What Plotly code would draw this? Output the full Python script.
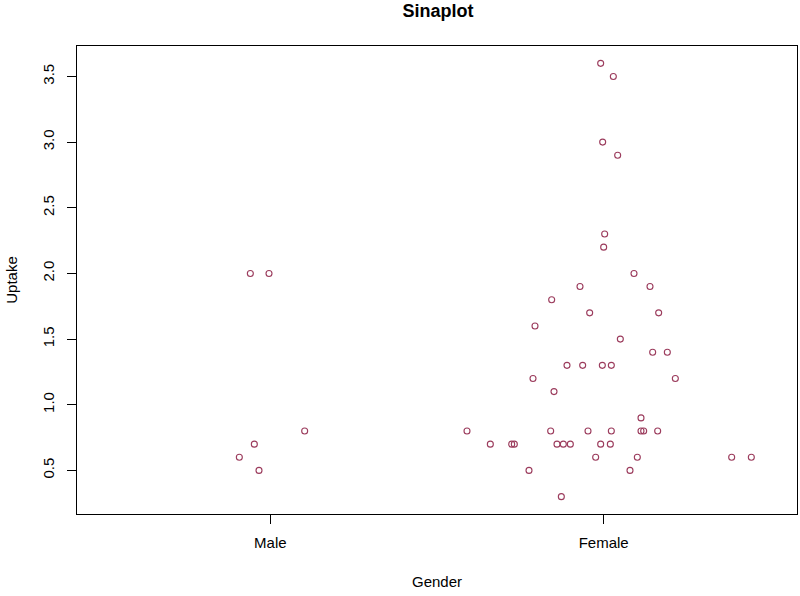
import plotly.graph_objects as go

categories = ["Male", "Female"]
cat_pos = [1, 2]

male_uptake = [2.0, 2.0, 0.8, 0.7, 0.6, 0.5]
male_xpos = [0.940, 0.996, 1.103, 0.952, 0.907, 0.966]

female_uptake = [3.6, 3.5, 3.0, 2.9, 2.3, 2.2, 2.0, 1.9, 1.9, 1.8, 1.7, 1.7, 1.6, 1.5,
                 1.4, 1.4, 1.3, 1.3, 1.3, 1.3, 1.2, 1.2, 1.1, 0.9,
                 0.8, 0.8, 0.8, 0.8, 0.8, 0.8, 0.8,
                 0.7, 0.7, 0.7, 0.7, 0.7, 0.7, 0.7, 0.7,
                 0.6, 0.6, 0.6, 0.6, 0.5, 0.5, 0.3]
female_xpos = [1.991, 2.029, 1.997, 2.042, 2.003, 2.000, 2.091, 1.929, 2.139, 1.844, 1.958, 2.165, 1.794, 2.050,
               2.147, 2.191, 1.890, 1.937, 1.996, 2.023, 1.788, 2.215, 1.851, 2.112,
               1.590, 1.841, 1.953, 2.023, 2.112, 2.120, 2.162,
               1.660, 1.724, 1.732, 1.860, 1.879, 1.900, 1.991, 2.020,
               1.976, 2.101, 2.384, 2.443, 1.776, 2.079, 1.873]

y_ticks = [0.5, 1.0, 1.5, 2.0, 2.5, 3.0, 3.5]

col = "#9b3b5c"
marker = dict(symbol="circle-open", size=6, color=col, line=dict(width=1.1, color=col))

fig = go.Figure()
fig.add_trace(go.Scatter(x=male_xpos, y=male_uptake, mode="markers", marker=marker,
                         name="Male", showlegend=False))
fig.add_trace(go.Scatter(x=female_xpos, y=female_uptake, mode="markers", marker=marker,
                         name="Female", showlegend=False))

font_family = "Liberation Sans, Arial, sans-serif"
fig.update_layout(
    width=800, height=596,
    margin=dict(l=77, r=3, t=46, b=82, autoexpand=False),
    paper_bgcolor="white", plot_bgcolor="white",
    font=dict(family=font_family, size=15, color="black"),
    title=dict(text="<b>Sinaplot</b>", x=438 / 800, xanchor="center",
               y=1 - 11 / 596, yanchor="middle", font=dict(size=18, family=font_family)),
    xaxis=dict(range=[0.42, 2.58], tickvals=cat_pos, ticktext=categories,
               showgrid=False, zeroline=False, showline=True, mirror=True,
               linecolor="black", linewidth=1, ticks="outside", ticklen=9,
               tickcolor="black", tickfont=dict(size=15), automargin=False,
               ticklabelstandoff=6,
               title=dict(text="Gender", font=dict(size=15), standoff=26)),
    yaxis=dict(range=[0.168, 3.732], tickvals=y_ticks,
               ticktext=[f"{v:.1f}" for v in y_ticks],
               showgrid=False, zeroline=False, showline=True, mirror=True,
               linecolor="black", linewidth=1, ticks="outside", ticklen=9,
               tickcolor="black", tickangle=-90, tickfont=dict(size=15), automargin=False,
               ticklabelstandoff=7,
               title=dict(text="Uptake", font=dict(size=15), standoff=18)),
)

fig.write_html(
    "out.html",
    config={"displayModeBar": False},
    post_script="document.body.style.margin='0';document.body.style.overflow='hidden';",
)
